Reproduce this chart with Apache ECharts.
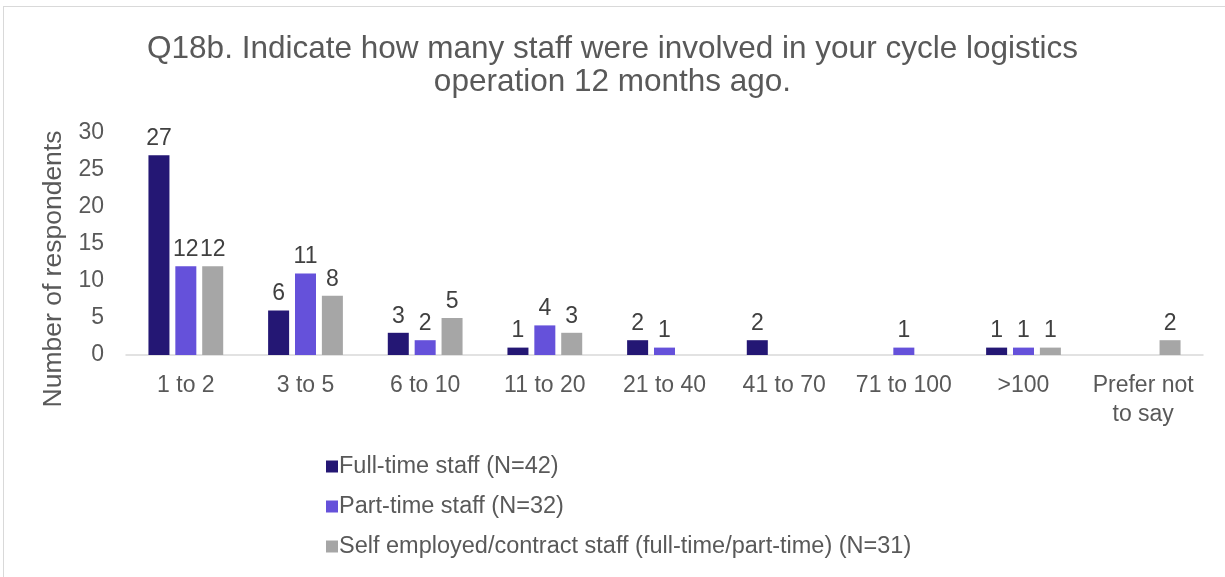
<!DOCTYPE html>
<html>
<head>
<meta charset="utf-8">
<script src="https://cdn.jsdelivr.net/npm/echarts@6/dist/echarts.min.js"></script>
<style>
html,body{margin:0;padding:0;background:#fff;}
#frame{position:absolute;left:3px;top:6px;width:1230px;height:600px;border:1px solid #d9d9d9;box-sizing:border-box;}
#chart{position:absolute;left:0;top:0;width:1225px;height:577px;}
</style>
</head>
<body>
<div id="frame"></div>
<div id="chart"></div>
<script>
const titleText = "Q18b. Indicate how many staff were involved in your cycle logistics\noperation 12 months ago.";
const categories = ["1 to 2","3 to 5","6 to 10","11 to 20","21 to 40","41 to 70","71 to 100",">100","Prefer not\nto say"];
const seriesNames = ["Full-time staff (N=42)","Part-time staff (N=32)","Self employed/contract staff (full-time/part-time) (N=31)"];
const fullTime = [27,6,3,1,2,2,null,1,null];
const partTime = [12,11,2,4,1,null,1,1,null];
const selfEmployed = [12,8,5,3,null,null,null,1,2];
const yTicks = [0,5,10,15,20,25,30];
const colors = ["#241774","#6551DA","#A6A6A6"];

const font = "'Liberation Sans', Arial, sans-serif";
const chart = echarts.init(document.getElementById('chart'));
const mk = (name, data, color) => ({
  name, type: 'bar', data,
  itemStyle: {color},
  barWidth: 21,
  barGap: '28%',
  label: {show: true, position: 'top', distance: 5, color: '#404040', fontSize: 23, fontFamily: font}
});
chart.setOption({
  animation: false,
  title: {
    text: titleText, left: 'center', top: 28,
    textStyle: {fontFamily: font, fontSize: 31.5, fontWeight: 'normal', color: '#595959', lineHeight: 33}
  },
  legend: {
    orient: 'vertical', left: 321, top: 448, itemGap: 13,
    itemWidth: 12, itemHeight: 12, icon: 'rect',
    textStyle: {fontFamily: font, fontSize: 23.5, color: '#595959', padding: [0,0,0,-4], lineHeight: 27},
    data: seriesNames
  },
  grid: {left: 126, right: 22, top: 133, bottom: 222, containLabel: false},
  xAxis: {
    type: 'category', data: categories,
    axisLine: {lineStyle: {color: '#d9d9d9', width: 1.5}},
    axisTick: {show: false},
    axisLabel: {fontFamily: font, fontSize: 23, color: '#595959', margin: 16, lineHeight: 29, interval: 0}
  },
  yAxis: {
    type: 'value', min: yTicks[0], max: yTicks[yTicks.length-1], interval: 5,
    name: 'Number of respondents', nameLocation: 'middle', nameGap: 53,
    nameTextStyle: {fontFamily: font, fontSize: 26.5, color: '#595959', padding: [0, 50, 0, 0]},
    axisLine: {show: false}, axisTick: {show: false},
    splitLine: {show: false},
    axisLabel: {fontFamily: font, fontSize: 23, color: '#595959', margin: 22}
  },
  series: [mk(seriesNames[0], fullTime, colors[0]), mk(seriesNames[1], partTime, colors[1]), mk(seriesNames[2], selfEmployed, colors[2])]
});
</script>
</body>
</html>
